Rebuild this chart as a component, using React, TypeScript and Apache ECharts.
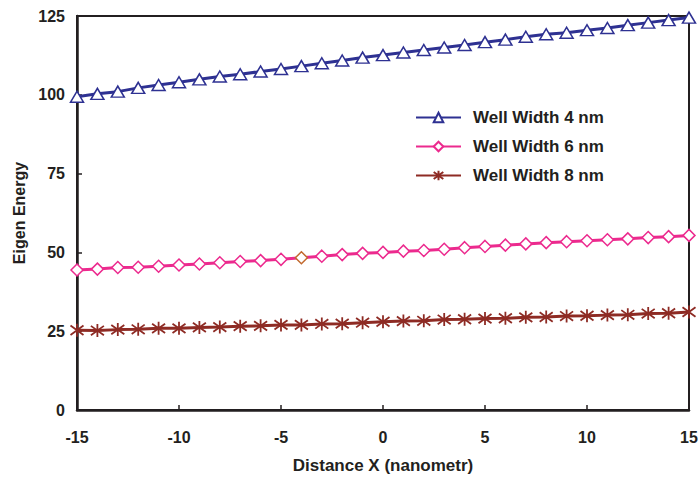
import React, { useEffect, useRef } from "react";
import * as echarts from "echarts";

const xValues = [-15, -14, -13, -12, -11, -10, -9, -8, -7, -6, -5, -4, -3, -2, -1, 0, 1, 2, 3, 4, 5, 6, 7, 8, 9, 10, 11, 12, 13, 14, 15];
const width4 = [99.4, 100.3, 101.0, 102.2, 103.1, 104.0, 104.9, 105.8, 106.5, 107.4, 108.2, 109.1, 110.0, 110.9, 111.8, 112.6, 113.4, 114.2, 115.0, 115.8, 116.7, 117.5, 118.4, 119.2, 119.7, 120.5, 121.2, 122.1, 122.9, 123.7, 124.5];
const width6 = [44.4, 44.7, 45.2, 45.3, 45.6, 46.0, 46.3, 46.7, 47.1, 47.4, 47.8, 48.3, 48.8, 49.3, 49.7, 50.0, 50.4, 50.6, 51.0, 51.5, 51.9, 52.3, 52.7, 53.1, 53.4, 53.7, 54.0, 54.3, 54.7, 55.0, 55.4];
const width8 = [25.3, 25.2, 25.5, 25.6, 25.9, 25.9, 26.2, 26.3, 26.6, 26.7, 27.0, 27.0, 27.3, 27.4, 27.7, 28.0, 28.2, 28.3, 28.7, 28.8, 29.0, 29.1, 29.4, 29.5, 29.8, 29.9, 30.1, 30.2, 30.6, 30.7, 31.1];
const seriesNames = ["Well Width 4 nm", "Well Width 6 nm", "Well Width 8 nm"];
const oddPointX = -4;

const BLUE = "#2E3192";
const PINK = "#EC2A8E";
const BROWN = "#8E2B24";
const INK = "#231F20";
const STAR = "path://M0,-5L0,5M-4.3,-3.6L4.3,3.6M-4.3,3.6L4.3,-3.6";
const FONT = "'Liberation Sans', Arial, sans-serif";

export default function App() {
  const ref = useRef<HTMLDivElement>(null);
  useEffect(() => {
    if (!ref.current) return;
    const chart = echarts.init(ref.current, undefined, { renderer: "svg" });
    const pair = (arr: number[]) => xValues.map((x, i) => [x, arr[i]]);
    const pinkData = xValues.map((x, i) =>
      x === oddPointX
        ? { value: [x, width6[i]], itemStyle: { borderColor: "#C2692E" } }
        : { value: [x, width6[i]] }
    );
    chart.setOption({
      animation: false,
      backgroundColor: "#ffffff",
      grid: {
        left: 77,
        right: 10,
        top: 16,
        bottom: 68,
        outerBoundsMode: "none",
        containLabel: false,
        show: true,
        borderColor: INK,
        borderWidth: 2,
        backgroundColor: "transparent",
      },
      legend: {
        orient: "vertical",
        left: 410,
        top: 104,
        itemWidth: 45,
        itemHeight: 12,
        itemGap: 12,
        data: seriesNames,
        textStyle: { fontFamily: FONT, fontWeight: "bold", fontSize: 17, color: INK, padding: [0, 0, 0, 7] },
      },
      xAxis: {
        type: "value",
        min: -15,
        max: 15,
        interval: 5,
        name: "Distance X (nanometr)",
        nameLocation: "middle",
        nameGap: 47,
        nameTextStyle: { fontFamily: FONT, fontWeight: "bold", fontSize: 17, color: INK },
        axisLine: { onZero: false, lineStyle: { color: INK, width: 2.5 } },
        axisTick: { inside: true, length: 5, lineStyle: { color: INK, width: 1.5 } },
        axisLabel: { fontFamily: FONT, fontWeight: "bold", fontSize: 16, color: INK, margin: 19 },
        splitLine: { show: false },
      },
      yAxis: {
        type: "value",
        min: 0,
        max: 125,
        interval: 25,
        name: "Eigen Energy",
        nameLocation: "middle",
        nameGap: 49,
        nameTextStyle: { fontFamily: FONT, fontWeight: "bold", fontSize: 16, color: INK },
        axisLine: { onZero: false, lineStyle: { color: INK, width: 2.5 } },
        axisTick: { inside: true, length: 5, lineStyle: { color: INK, width: 1.5 } },
        axisLabel: { fontFamily: FONT, fontWeight: "bold", fontSize: 16, color: INK, margin: 12 },
        splitLine: { show: false },
      },
      series: [
        {
          name: seriesNames[0],
          type: "line",
          data: pair(width4),
          clip: false,
          symbol: "triangle",
          symbolSize: [13, 11],
          lineStyle: { color: BLUE, width: 3 },
          itemStyle: { color: "#ffffff", borderColor: BLUE, borderWidth: 1.5 },
        },
        {
          name: seriesNames[1],
          type: "line",
          data: pinkData,
          clip: false,
          symbol: "diamond",
          symbolSize: [12, 12],
          lineStyle: { color: PINK, width: 3 },
          itemStyle: { color: "#ffffff", borderColor: PINK, borderWidth: 1.5 },
        },
        {
          name: seriesNames[2],
          type: "line",
          data: pair(width8),
          clip: false,
          symbol: STAR,
          symbolSize: [13, 13],
          lineStyle: { color: BROWN, width: 3 },
          itemStyle: { color: BROWN, borderColor: BROWN, borderWidth: 1.8 },
        },
      ],
    });
    return () => chart.dispose();
  }, []);
  return <div ref={ref} style={{ width: 699, height: 478, position: "absolute", left: 0, top: 0 }} />;
}
